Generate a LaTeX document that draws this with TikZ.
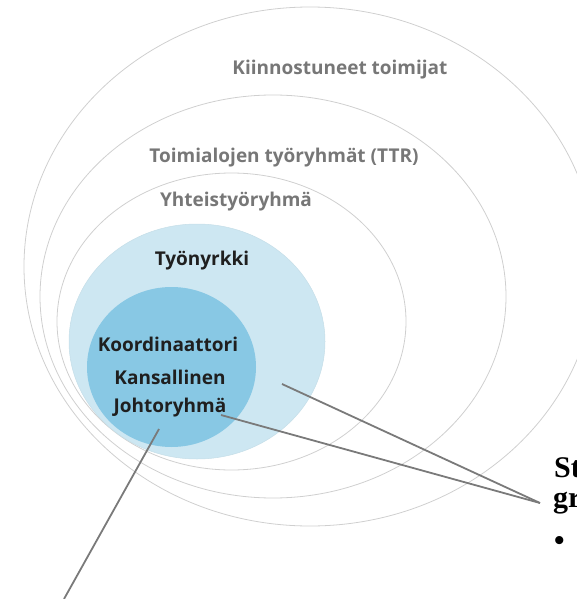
\documentclass[tikz,border=0pt]{standalone}
\usepackage{xcolor}
\usepackage{fontspec}
\newfontfamily\ringfont{Open Sans}
\newfontfamily\notefont{Liberation Serif}
\usepackage{tikz}
\usetikzlibrary{positioning,shapes.geometric}

\definecolor{ringgray}{HTML}{CFCFCF}
\definecolor{labelgray}{HTML}{777777}
\definecolor{paleblue}{HTML}{CDE7F2}
\definecolor{midblue}{HTML}{88C8E4}
\definecolor{leadgray}{HTML}{7A7A7A}

\begin{document}
\begin{tikzpicture}[x=1pt, y=-1pt,
    ring/.style={ellipse, draw=ringgray, line width=0.8pt, inner sep=0pt},
    bluering/.style={ellipse, draw=paleblue!80!black!20!paleblue, fill=paleblue, line width=0.5pt, inner sep=0pt},
    corering/.style={ellipse, fill=midblue, inner sep=0pt},
    ringlabel/.style={anchor=base, inner sep=1pt, text=labelgray, font=\ringfont\bfseries\fontsize{19}{21}\selectfont},
    corelabel/.style={ringlabel, text=black!88},
    notelabel/.style={anchor=base west, inner sep=0pt, font=\notefont\bfseries\fontsize{30}{30}\selectfont},
    lead/.style={draw=leadgray, line width=1.8pt}
    ]
        \useasboundingbox (0,0) rectangle (577,599);

        %Rings
        \node[ring, minimum width=572, minimum height=519]
            (outer)     at (310,266.5)  {};
        \node[ring, minimum width=466, minimum height=403]
            (ttr)       at (273,296.5)  {};
        \node[ring, minimum width=349, minimum height=297]
            (yhteis)    at (231.5,321.5) {};
        \node[bluering, minimum width=256, minimum height=235]
            (nyrkki)    at (197,341.5)  {};
        \node[corering, minimum width=169, minimum height=160]
            (core)      at (171.5,367)  {};

        %Labels
        \node[ringlabel]    (lkiinn)    at (340,75)     {Kiinnostuneet toimijat};
        \node[ringlabel]    (lttr)      at (284,162)    {Toimialojen työryhmät (TTR)};
        \node[ringlabel]    (lyhteis)   at (236,206)    {Yhteistyöryhmä};
        \node[corelabel]    (lnyrkki)   at (202,265)    {Työnyrkki};
        \node[corelabel]    (lkoord)    at (168,351)    {Koordinaattori};
        \node[corelabel]    (lkans)     at (170,384)    {Kansallinen};
        \node[corelabel]    (ljohto)    at (170,412)    {Johtoryhmä};

        %Notes
        \node[notelabel]    (note1)     at (554,477)    {St};
        \node[notelabel]    (note2)     at (553,507)    {gr};
        \node[notelabel]    (note3)     at (554,550)    {•};

        %Lines
        \coordinate (tip)       at (540,503);
        \coordinate (ringpt)    at (282,384);
        \coordinate (johtopt)   at (221,415);
        \coordinate (corept)    at (159,429);
        \coordinate (lowend)    at (64,599);
        \draw[lead] (ringpt) -- (tip);
        \draw[lead] (johtopt) -- (tip);
        \draw[lead] (corept) -- (lowend);
\end{tikzpicture}
\end{document}
